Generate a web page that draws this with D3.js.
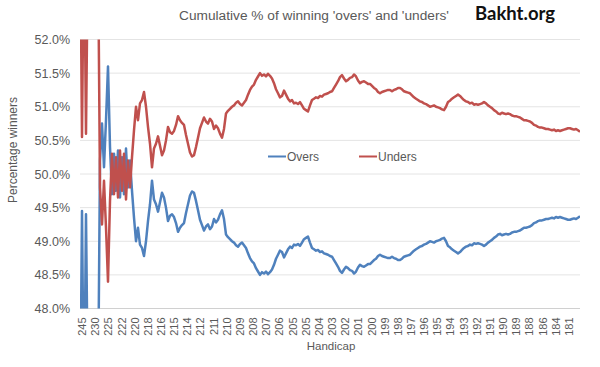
<!DOCTYPE html>
<html>
<head>
<meta charset="utf-8">
<script src="https://cdn.jsdelivr.net/npm/d3@7"></script>
<style>
  body { margin: 0; background: #fff; }
  text { font-family: "Liberation Sans", Arial, sans-serif; fill: #595959; }
</style>
</head>
<body>
<div id="chart"></div>
<script>
// handicap labels shown along the x axis (every few points)
var handicapLabels = ["245", "230", "225", "222", "220", "218", "216", "215", "214", "212",
  "211", "210", "209", "208", "207", "206", "205", "205", "204", "203",
  "202", "201", "200", "199", "198", "197", "196", "195", "194", "193",
  "192", "191", "190", "189", "188", "186", "184", "181"];

var yTicks = [48.0, 48.5, 49.0, 49.5, 50.0, 50.5, 51.0, 51.5, 52.0];

var seriesNames = ["Overs", "Unders"];

// cumulative % of winning overs
var overs = [
  46.00, 49.45, 46.20, 49.40, 46.50, 46.60, 46.40, 46.70, 46.50, 46.60,
  50.20, 50.75, 50.10, 50.80, 51.60, 50.40, 49.70, 50.30, 49.75, 50.35,
  49.65, 50.25, 49.70, 50.38, 49.80, 50.20, 49.75, 49.35, 49.00, 49.20,
  48.95, 48.90, 48.78, 49.00, 49.30, 49.55, 49.90, 49.62, 49.55, 49.44,
  49.58, 49.72, 49.65, 49.50, 49.30, 49.38, 49.40, 49.36, 49.27, 49.14,
  49.20, 49.24, 49.27, 49.42, 49.55, 49.68, 49.74, 49.72, 49.60, 49.46,
  49.32, 49.24, 49.16, 49.22, 49.25, 49.18, 49.22, 49.33, 49.28, 49.32,
  49.40, 49.46, 49.33, 49.10, 49.06, 49.03, 49.00, 48.98, 48.94, 48.92,
  48.96, 48.98, 48.94, 48.90, 48.82, 48.75, 48.70, 48.67, 48.60, 48.55,
  48.50, 48.54, 48.52, 48.55, 48.51, 48.54, 48.58, 48.65, 48.74, 48.80,
  48.86, 48.84, 48.76, 48.82, 48.88, 48.92, 48.90, 48.95, 48.94, 48.96,
  48.93, 48.98, 49.03, 49.05, 49.07, 48.98, 48.90, 48.88, 48.86, 48.87,
  48.84, 48.85, 48.82, 48.81, 48.80, 48.78, 48.77, 48.72, 48.67, 48.62,
  48.56, 48.53, 48.58, 48.62, 48.60, 48.57, 48.56, 48.52, 48.55, 48.61,
  48.65, 48.63, 48.62, 48.64, 48.66, 48.66, 48.69, 48.72, 48.74, 48.78,
  48.80, 48.78, 48.77, 48.76, 48.75, 48.75, 48.77, 48.75, 48.74, 48.72,
  48.72, 48.74, 48.77, 48.78, 48.79, 48.80, 48.83, 48.86, 48.88, 48.90,
  48.92, 48.93, 48.95, 48.96, 48.98, 49.00, 48.99, 48.98, 49.00, 49.01,
  49.02, 49.04, 49.05, 49.00, 48.93, 48.91, 48.88, 48.86, 48.84, 48.82,
  48.84, 48.87, 48.90, 48.92, 48.93, 48.95, 48.94, 48.97, 48.96, 48.97,
  48.96, 48.95, 48.93, 48.95, 48.98, 49.00, 49.02, 49.05, 49.07, 49.10,
  49.11, 49.09, 49.10, 49.11, 49.10, 49.11, 49.13, 49.14, 49.14, 49.15,
  49.16, 49.18, 49.20, 49.20, 49.21, 49.22, 49.24, 49.27, 49.28, 49.30,
  49.31, 49.31, 49.32, 49.33, 49.33, 49.34, 49.35, 49.34, 49.36, 49.35,
  49.36, 49.35, 49.34, 49.33, 49.32, 49.32, 49.33, 49.34, 49.33, 49.35,
  49.37
];

// cumulative % of winning unders
var unders = [
  54.00, 50.55, 53.80, 50.60, 53.50, 53.40, 53.60, 53.30, 53.50, 53.40,
  49.80, 49.25, 49.90, 49.20, 48.40, 49.60, 50.30, 49.70, 50.25, 49.65,
  50.35, 49.75, 50.30, 49.62, 50.20, 49.80, 50.25, 50.65, 51.00, 50.80,
  51.05, 51.10, 51.22, 51.00, 50.70, 50.45, 50.10, 50.38, 50.45, 50.56,
  50.42, 50.28, 50.35, 50.50, 50.70, 50.62, 50.60, 50.64, 50.73, 50.86,
  50.80, 50.76, 50.73, 50.58, 50.45, 50.32, 50.26, 50.28, 50.40, 50.54,
  50.68, 50.76, 50.84, 50.78, 50.75, 50.82, 50.78, 50.67, 50.72, 50.68,
  50.60, 50.54, 50.67, 50.90, 50.94, 50.97, 51.00, 51.02, 51.06, 51.08,
  51.04, 51.02, 51.06, 51.10, 51.18, 51.25, 51.30, 51.33, 51.40, 51.45,
  51.50, 51.46, 51.48, 51.45, 51.49, 51.46, 51.42, 51.35, 51.26, 51.20,
  51.14, 51.16, 51.24, 51.18, 51.12, 51.08, 51.10, 51.05, 51.06, 51.04,
  51.07, 51.02, 50.97, 50.95, 50.93, 51.02, 51.10, 51.12, 51.14, 51.13,
  51.16, 51.15, 51.18, 51.19, 51.20, 51.22, 51.23, 51.28, 51.33, 51.38,
  51.44, 51.47, 51.42, 51.38, 51.40, 51.43, 51.44, 51.48, 51.45, 51.39,
  51.35, 51.37, 51.38, 51.36, 51.34, 51.34, 51.31, 51.28, 51.26, 51.22,
  51.20, 51.22, 51.23, 51.24, 51.25, 51.25, 51.23, 51.25, 51.26, 51.28,
  51.28, 51.26, 51.23, 51.22, 51.21, 51.20, 51.17, 51.14, 51.12, 51.10,
  51.08, 51.07, 51.05, 51.04, 51.02, 51.00, 51.01, 51.02, 51.00, 50.99,
  50.98, 50.96, 50.95, 51.00, 51.07, 51.09, 51.12, 51.14, 51.16, 51.18,
  51.16, 51.13, 51.10, 51.08, 51.07, 51.05, 51.06, 51.03, 51.04, 51.03,
  51.04, 51.05, 51.07, 51.05, 51.02, 51.00, 50.98, 50.95, 50.93, 50.90,
  50.89, 50.91, 50.90, 50.89, 50.90, 50.89, 50.87, 50.86, 50.86, 50.85,
  50.84, 50.82, 50.80, 50.80, 50.79, 50.78, 50.76, 50.73, 50.72, 50.70,
  50.69, 50.69, 50.68, 50.67, 50.67, 50.66, 50.65, 50.66, 50.64, 50.65,
  50.64, 50.65, 50.66, 50.67, 50.68, 50.68, 50.67, 50.66, 50.67, 50.65,
  50.63
];

var colors = ["#4F81BD", "#C0504D"];

var svgWidth = 600;
var svgHeight = 367;

var margin = { top: 39.5, right: 20, bottom: 58.5, left: 80 };
var width = svgWidth - margin.left - margin.right;
var height = svgHeight - margin.top - margin.bottom;

var svg = d3.select("#chart")
  .append("svg")
  .attr("width", svgWidth)
  .attr("height", svgHeight);

var chartGroup = svg.append("g")
  .attr("transform", `translate(${margin.left}, ${margin.top})`);

// scales
var xLinearScale = d3.scaleLinear()
  .domain([0, overs.length - 1])
  .range([0, width]);

var xLabelScale = d3.scaleLinear()
  .domain([0, handicapLabels.length])
  .range([0, width]);

var yLinearScale = d3.scaleLinear()
  .domain([48, 52])
  .range([height, 0]);

// horizontal gridlines
chartGroup.append("g")
  .selectAll("line")
  .data(yTicks)
  .enter()
  .append("line")
  .attr("x1", 0)
  .attr("x2", width)
  .attr("y1", d => yLinearScale(d))
  .attr("y2", d => yLinearScale(d))
  .attr("stroke", d => d === 48 ? "#d0d0d0" : "#e4e4e4")
  .attr("stroke-width", 1);

// y axis labels
var leftAxis = d3.axisLeft(yLinearScale)
  .tickValues(yTicks)
  .tickFormat(d => d.toFixed(1) + "%")
  .tickSize(0)
  .tickPadding(10);

var yAxis = chartGroup.append("g").call(leftAxis);
yAxis.select(".domain").remove();
yAxis.selectAll("text")
  .style("font-size", "12.5px")
  .attr("fill", "#595959");

// x axis labels, rotated
var bottomAxis = d3.axisBottom(xLabelScale)
  .tickValues(d3.range(handicapLabels.length))
  .tickFormat(i => handicapLabels[i])
  .tickSize(0);

var xAxis = chartGroup.append("g")
  .attr("transform", `translate(0, ${height})`)
  .call(bottomAxis);
xAxis.select(".domain").remove();
xAxis.selectAll("text")
  .attr("transform", "translate(1.7,0) rotate(-90)")
  .attr("x", -9)
  .attr("y", 0)
  .attr("dy", "0.35em")
  .style("text-anchor", "end")
  .style("font-size", "11px")
  .attr("fill", "#595959");

// clip lines to plot area
svg.append("defs").append("clipPath")
  .attr("id", "plot-clip")
  .append("rect")
  .attr("width", width)
  .attr("height", height);

var line = d3.line()
  .x((d, i) => xLinearScale(i))
  .y(d => yLinearScale(d));

var linesGroup = chartGroup.append("g")
  .attr("clip-path", "url(#plot-clip)");

[overs, unders].forEach(function(series, k) {
  linesGroup.append("path")
    .datum(series)
    .attr("d", line)
    .attr("fill", "none")
    .attr("stroke", colors[k])
    .attr("stroke-width", 2.5)
    .attr("stroke-linejoin", "round");
});

// legend
var legendX = [188, 279];
var legend = chartGroup.append("g")
  .attr("transform", `translate(0, ${156.5 - margin.top})`);

seriesNames.forEach(function(name, k) {
  legend.append("line")
    .attr("x1", legendX[k])
    .attr("x2", legendX[k] + 18)
    .attr("stroke", colors[k])
    .attr("stroke-width", 2);
  legend.append("text")
    .attr("x", legendX[k] + 19)
    .attr("dy", "0.35em")
    .style("font-size", "12px")
    .text(name);
});

// titles
svg.append("text")
  .attr("x", 314)
  .attr("y", 19.5)
  .attr("text-anchor", "middle")
  .style("font-size", "13.7px")
  .text("Cumulative % of winning 'overs' and 'unders'");

svg.append("text")
  .attr("x", 475)
  .attr("y", 19.5)
  .style("font-family", "Lato, 'Open Sans', sans-serif")
  .style("font-weight", "bold")
  .style("font-size", "18.5px")
  .style("fill", "#111")
  .text("Bakht.org");

svg.append("text")
  .attr("transform", "translate(17, 150) rotate(-90)")
  .attr("text-anchor", "middle")
  .style("font-size", "12px")
  .text("Percentage winners");

svg.append("text")
  .attr("x", 331)
  .attr("y", 350)
  .attr("text-anchor", "middle")
  .style("font-size", "11.5px")
  .text("Handicap");
</script>
</body>
</html>
